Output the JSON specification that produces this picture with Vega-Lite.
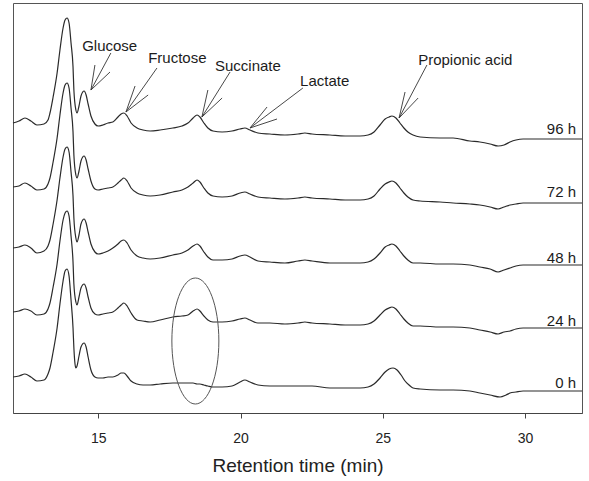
{
  "$schema": "https://vega.github.io/schema/vega-lite/v6.json",
  "width": 569,
  "height": 410,
  "autosize": {"type": "none"},
  "padding": {"left": 13, "top": 3, "right": 7, "bottom": 68},
  "background": "white",
  "config": {
    "font": "Liberation Sans",
    "view": {"stroke": "#555555", "strokeWidth": 1},
    "axis": {"grid": false}
  },
  "datasets": {
    "traces": [
      {"time": 12.00, "trace": "96 h", "signal": 290}, {"time": 12.21, "trace": "96 h", "signal": 292}, {"time": 12.42, "trace": "96 h", "signal": 295}, {"time": 12.63, "trace": "96 h", "signal": 292}, {"time": 12.84, "trace": "96 h", "signal": 288}, {"time": 13.09, "trace": "96 h", "signal": 289}, {"time": 13.23, "trace": "96 h", "signal": 293}, {"time": 13.30, "trace": "96 h", "signal": 300}, {"time": 13.41, "trace": "96 h", "signal": 316}, {"time": 13.55, "trace": "96 h", "signal": 340}, {"time": 13.65, "trace": "96 h", "signal": 363}, {"time": 13.76, "trace": "96 h", "signal": 385}, {"time": 13.83, "trace": "96 h", "signal": 393}, {"time": 13.90, "trace": "96 h", "signal": 395}, {"time": 13.97, "trace": "96 h", "signal": 390}, {"time": 14.04, "trace": "96 h", "signal": 370}, {"time": 14.11, "trace": "96 h", "signal": 346}, {"time": 14.14, "trace": "96 h", "signal": 323}, {"time": 14.21, "trace": "96 h", "signal": 303}, {"time": 14.25, "trace": "96 h", "signal": 300}, {"time": 14.32, "trace": "96 h", "signal": 307}, {"time": 14.39, "trace": "96 h", "signal": 317}, {"time": 14.50, "trace": "96 h", "signal": 322}, {"time": 14.57, "trace": "96 h", "signal": 318}, {"time": 14.64, "trace": "96 h", "signal": 309}, {"time": 14.74, "trace": "96 h", "signal": 297}, {"time": 14.88, "trace": "96 h", "signal": 289}, {"time": 14.99, "trace": "96 h", "signal": 287}, {"time": 15.16, "trace": "96 h", "signal": 288}, {"time": 15.34, "trace": "96 h", "signal": 290}, {"time": 15.51, "trace": "96 h", "signal": 291}, {"time": 15.69, "trace": "96 h", "signal": 296}, {"time": 15.80, "trace": "96 h", "signal": 299}, {"time": 15.90, "trace": "96 h", "signal": 300}, {"time": 16.01, "trace": "96 h", "signal": 297}, {"time": 16.15, "trace": "96 h", "signal": 290}, {"time": 16.36, "trace": "96 h", "signal": 285}, {"time": 16.57, "trace": "96 h", "signal": 283}, {"time": 16.82, "trace": "96 h", "signal": 282}, {"time": 17.17, "trace": "96 h", "signal": 283}, {"time": 17.62, "trace": "96 h", "signal": 285}, {"time": 17.94, "trace": "96 h", "signal": 287}, {"time": 18.15, "trace": "96 h", "signal": 290}, {"time": 18.33, "trace": "96 h", "signal": 295}, {"time": 18.47, "trace": "96 h", "signal": 298}, {"time": 18.57, "trace": "96 h", "signal": 296}, {"time": 18.71, "trace": "96 h", "signal": 290}, {"time": 18.85, "trace": "96 h", "signal": 285}, {"time": 19.03, "trace": "96 h", "signal": 282}, {"time": 19.35, "trace": "96 h", "signal": 281}, {"time": 19.70, "trace": "96 h", "signal": 282}, {"time": 19.98, "trace": "96 h", "signal": 284}, {"time": 20.15, "trace": "96 h", "signal": 285}, {"time": 20.33, "trace": "96 h", "signal": 283}, {"time": 20.61, "trace": "96 h", "signal": 280}, {"time": 21.03, "trace": "96 h", "signal": 279}, {"time": 21.56, "trace": "96 h", "signal": 278}, {"time": 22.02, "trace": "96 h", "signal": 279}, {"time": 22.26, "trace": "96 h", "signal": 280}, {"time": 22.51, "trace": "96 h", "signal": 279}, {"time": 23.14, "trace": "96 h", "signal": 278}, {"time": 23.67, "trace": "96 h", "signal": 277}, {"time": 24.20, "trace": "96 h", "signal": 277}, {"time": 24.48, "trace": "96 h", "signal": 278}, {"time": 24.69, "trace": "96 h", "signal": 281}, {"time": 24.90, "trace": "96 h", "signal": 288}, {"time": 25.08, "trace": "96 h", "signal": 294}, {"time": 25.22, "trace": "96 h", "signal": 296}, {"time": 25.32, "trace": "96 h", "signal": 297}, {"time": 25.46, "trace": "96 h", "signal": 295}, {"time": 25.60, "trace": "96 h", "signal": 290}, {"time": 25.74, "trace": "96 h", "signal": 285}, {"time": 25.88, "trace": "96 h", "signal": 281}, {"time": 26.06, "trace": "96 h", "signal": 278}, {"time": 26.31, "trace": "96 h", "signal": 276}, {"time": 27.01, "trace": "96 h", "signal": 275}, {"time": 27.47, "trace": "96 h", "signal": 275}, {"time": 28.06, "trace": "96 h", "signal": 272}, {"time": 28.41, "trace": "96 h", "signal": 271}, {"time": 28.77, "trace": "96 h", "signal": 269}, {"time": 29.05, "trace": "96 h", "signal": 267}, {"time": 29.26, "trace": "96 h", "signal": 268}, {"time": 29.47, "trace": "96 h", "signal": 271}, {"time": 29.68, "trace": "96 h", "signal": 273}, {"time": 29.93, "trace": "96 h", "signal": 274}, {"time": 30.52, "trace": "96 h", "signal": 274}, {"time": 31.23, "trace": "96 h", "signal": 274}, {"time": 32.00, "trace": "96 h", "signal": 274},

      {"time": 12.00, "trace": "72 h", "signal": 226}, {"time": 12.21, "trace": "72 h", "signal": 227}, {"time": 12.42, "trace": "72 h", "signal": 230}, {"time": 12.63, "trace": "72 h", "signal": 227}, {"time": 12.84, "trace": "72 h", "signal": 223}, {"time": 13.09, "trace": "72 h", "signal": 224}, {"time": 13.23, "trace": "72 h", "signal": 229}, {"time": 13.30, "trace": "72 h", "signal": 235}, {"time": 13.41, "trace": "72 h", "signal": 251}, {"time": 13.55, "trace": "72 h", "signal": 275}, {"time": 13.65, "trace": "72 h", "signal": 298}, {"time": 13.76, "trace": "72 h", "signal": 320}, {"time": 13.83, "trace": "72 h", "signal": 328}, {"time": 13.90, "trace": "72 h", "signal": 330}, {"time": 13.97, "trace": "72 h", "signal": 325}, {"time": 14.04, "trace": "72 h", "signal": 305}, {"time": 14.11, "trace": "72 h", "signal": 281}, {"time": 14.14, "trace": "72 h", "signal": 258}, {"time": 14.21, "trace": "72 h", "signal": 238}, {"time": 14.25, "trace": "72 h", "signal": 235}, {"time": 14.32, "trace": "72 h", "signal": 242}, {"time": 14.39, "trace": "72 h", "signal": 252}, {"time": 14.50, "trace": "72 h", "signal": 257}, {"time": 14.57, "trace": "72 h", "signal": 253}, {"time": 14.64, "trace": "72 h", "signal": 244}, {"time": 14.74, "trace": "72 h", "signal": 232}, {"time": 14.88, "trace": "72 h", "signal": 224}, {"time": 14.99, "trace": "72 h", "signal": 223}, {"time": 15.16, "trace": "72 h", "signal": 224}, {"time": 15.34, "trace": "72 h", "signal": 225}, {"time": 15.51, "trace": "72 h", "signal": 226}, {"time": 15.69, "trace": "72 h", "signal": 230}, {"time": 15.80, "trace": "72 h", "signal": 233}, {"time": 15.90, "trace": "72 h", "signal": 235}, {"time": 16.01, "trace": "72 h", "signal": 232}, {"time": 16.15, "trace": "72 h", "signal": 225}, {"time": 16.36, "trace": "72 h", "signal": 220}, {"time": 16.57, "trace": "72 h", "signal": 218}, {"time": 16.82, "trace": "72 h", "signal": 217}, {"time": 17.17, "trace": "72 h", "signal": 218}, {"time": 17.62, "trace": "72 h", "signal": 221}, {"time": 17.94, "trace": "72 h", "signal": 223}, {"time": 18.15, "trace": "72 h", "signal": 226}, {"time": 18.33, "trace": "72 h", "signal": 230}, {"time": 18.47, "trace": "72 h", "signal": 233}, {"time": 18.57, "trace": "72 h", "signal": 231}, {"time": 18.71, "trace": "72 h", "signal": 225}, {"time": 18.85, "trace": "72 h", "signal": 220}, {"time": 19.03, "trace": "72 h", "signal": 217}, {"time": 19.35, "trace": "72 h", "signal": 216}, {"time": 19.70, "trace": "72 h", "signal": 217}, {"time": 19.98, "trace": "72 h", "signal": 220}, {"time": 20.15, "trace": "72 h", "signal": 221}, {"time": 20.33, "trace": "72 h", "signal": 219}, {"time": 20.61, "trace": "72 h", "signal": 216}, {"time": 21.03, "trace": "72 h", "signal": 215}, {"time": 21.56, "trace": "72 h", "signal": 214}, {"time": 22.02, "trace": "72 h", "signal": 215}, {"time": 22.26, "trace": "72 h", "signal": 216}, {"time": 22.51, "trace": "72 h", "signal": 215}, {"time": 23.14, "trace": "72 h", "signal": 214}, {"time": 23.67, "trace": "72 h", "signal": 213}, {"time": 24.20, "trace": "72 h", "signal": 213}, {"time": 24.48, "trace": "72 h", "signal": 214}, {"time": 24.69, "trace": "72 h", "signal": 217}, {"time": 24.90, "trace": "72 h", "signal": 224}, {"time": 25.08, "trace": "72 h", "signal": 229}, {"time": 25.22, "trace": "72 h", "signal": 231}, {"time": 25.32, "trace": "72 h", "signal": 232}, {"time": 25.46, "trace": "72 h", "signal": 230}, {"time": 25.60, "trace": "72 h", "signal": 225}, {"time": 25.74, "trace": "72 h", "signal": 220}, {"time": 25.88, "trace": "72 h", "signal": 216}, {"time": 26.06, "trace": "72 h", "signal": 213}, {"time": 26.31, "trace": "72 h", "signal": 212}, {"time": 27.01, "trace": "72 h", "signal": 211}, {"time": 27.47, "trace": "72 h", "signal": 210}, {"time": 28.06, "trace": "72 h", "signal": 209}, {"time": 28.41, "trace": "72 h", "signal": 208}, {"time": 28.77, "trace": "72 h", "signal": 206}, {"time": 29.05, "trace": "72 h", "signal": 204}, {"time": 29.26, "trace": "72 h", "signal": 206}, {"time": 29.47, "trace": "72 h", "signal": 208}, {"time": 29.68, "trace": "72 h", "signal": 209}, {"time": 29.93, "trace": "72 h", "signal": 210}, {"time": 30.52, "trace": "72 h", "signal": 210}, {"time": 31.23, "trace": "72 h", "signal": 210}, {"time": 32.00, "trace": "72 h", "signal": 210},

      {"time": 12.00, "trace": "48 h", "signal": 165}, {"time": 12.21, "trace": "48 h", "signal": 166}, {"time": 12.42, "trace": "48 h", "signal": 168}, {"time": 12.63, "trace": "48 h", "signal": 165}, {"time": 12.84, "trace": "48 h", "signal": 160}, {"time": 13.09, "trace": "48 h", "signal": 162}, {"time": 13.23, "trace": "48 h", "signal": 167}, {"time": 13.30, "trace": "48 h", "signal": 173}, {"time": 13.41, "trace": "48 h", "signal": 189}, {"time": 13.55, "trace": "48 h", "signal": 213}, {"time": 13.65, "trace": "48 h", "signal": 235}, {"time": 13.76, "trace": "48 h", "signal": 256}, {"time": 13.83, "trace": "48 h", "signal": 264}, {"time": 13.90, "trace": "48 h", "signal": 266}, {"time": 13.97, "trace": "48 h", "signal": 261}, {"time": 14.04, "trace": "48 h", "signal": 241}, {"time": 14.11, "trace": "48 h", "signal": 217}, {"time": 14.14, "trace": "48 h", "signal": 195}, {"time": 14.21, "trace": "48 h", "signal": 175}, {"time": 14.25, "trace": "48 h", "signal": 171}, {"time": 14.32, "trace": "48 h", "signal": 178}, {"time": 14.39, "trace": "48 h", "signal": 189}, {"time": 14.50, "trace": "48 h", "signal": 194}, {"time": 14.57, "trace": "48 h", "signal": 190}, {"time": 14.64, "trace": "48 h", "signal": 181}, {"time": 14.74, "trace": "48 h", "signal": 169}, {"time": 14.88, "trace": "48 h", "signal": 161}, {"time": 14.99, "trace": "48 h", "signal": 159}, {"time": 15.16, "trace": "48 h", "signal": 160}, {"time": 15.34, "trace": "48 h", "signal": 162}, {"time": 15.51, "trace": "48 h", "signal": 165}, {"time": 15.69, "trace": "48 h", "signal": 169}, {"time": 15.80, "trace": "48 h", "signal": 172}, {"time": 15.90, "trace": "48 h", "signal": 173}, {"time": 16.01, "trace": "48 h", "signal": 170}, {"time": 16.15, "trace": "48 h", "signal": 163}, {"time": 16.36, "trace": "48 h", "signal": 157}, {"time": 16.57, "trace": "48 h", "signal": 155}, {"time": 16.82, "trace": "48 h", "signal": 154}, {"time": 17.17, "trace": "48 h", "signal": 155}, {"time": 17.62, "trace": "48 h", "signal": 158}, {"time": 17.94, "trace": "48 h", "signal": 160}, {"time": 18.15, "trace": "48 h", "signal": 163}, {"time": 18.33, "trace": "48 h", "signal": 167}, {"time": 18.47, "trace": "48 h", "signal": 169}, {"time": 18.57, "trace": "48 h", "signal": 167}, {"time": 18.71, "trace": "48 h", "signal": 161}, {"time": 18.85, "trace": "48 h", "signal": 156}, {"time": 19.03, "trace": "48 h", "signal": 153}, {"time": 19.35, "trace": "48 h", "signal": 153}, {"time": 19.70, "trace": "48 h", "signal": 154}, {"time": 19.98, "trace": "48 h", "signal": 157}, {"time": 20.15, "trace": "48 h", "signal": 158}, {"time": 20.33, "trace": "48 h", "signal": 156}, {"time": 20.61, "trace": "48 h", "signal": 152}, {"time": 21.03, "trace": "48 h", "signal": 151}, {"time": 21.56, "trace": "48 h", "signal": 150}, {"time": 22.02, "trace": "48 h", "signal": 152}, {"time": 22.26, "trace": "48 h", "signal": 153}, {"time": 22.51, "trace": "48 h", "signal": 152}, {"time": 23.14, "trace": "48 h", "signal": 150}, {"time": 23.67, "trace": "48 h", "signal": 150}, {"time": 24.20, "trace": "48 h", "signal": 150}, {"time": 24.48, "trace": "48 h", "signal": 151}, {"time": 24.69, "trace": "48 h", "signal": 154}, {"time": 24.90, "trace": "48 h", "signal": 160}, {"time": 25.08, "trace": "48 h", "signal": 166}, {"time": 25.22, "trace": "48 h", "signal": 168}, {"time": 25.32, "trace": "48 h", "signal": 169}, {"time": 25.46, "trace": "48 h", "signal": 167}, {"time": 25.60, "trace": "48 h", "signal": 162}, {"time": 25.74, "trace": "48 h", "signal": 157}, {"time": 25.88, "trace": "48 h", "signal": 153}, {"time": 26.06, "trace": "48 h", "signal": 150}, {"time": 26.31, "trace": "48 h", "signal": 150}, {"time": 27.01, "trace": "48 h", "signal": 149}, {"time": 27.47, "trace": "48 h", "signal": 149}, {"time": 28.06, "trace": "48 h", "signal": 148}, {"time": 28.41, "trace": "48 h", "signal": 146}, {"time": 28.77, "trace": "48 h", "signal": 144}, {"time": 29.05, "trace": "48 h", "signal": 141}, {"time": 29.26, "trace": "48 h", "signal": 143}, {"time": 29.47, "trace": "48 h", "signal": 145}, {"time": 29.68, "trace": "48 h", "signal": 147}, {"time": 29.93, "trace": "48 h", "signal": 148}, {"time": 30.52, "trace": "48 h", "signal": 148}, {"time": 31.23, "trace": "48 h", "signal": 148}, {"time": 32.00, "trace": "48 h", "signal": 148},

      {"time": 12.00, "trace": "24 h", "signal": 101}, {"time": 12.21, "trace": "24 h", "signal": 102}, {"time": 12.42, "trace": "24 h", "signal": 104}, {"time": 12.63, "trace": "24 h", "signal": 102}, {"time": 12.84, "trace": "24 h", "signal": 98}, {"time": 13.09, "trace": "24 h", "signal": 99}, {"time": 13.23, "trace": "24 h", "signal": 104}, {"time": 13.30, "trace": "24 h", "signal": 110}, {"time": 13.41, "trace": "24 h", "signal": 126}, {"time": 13.55, "trace": "24 h", "signal": 149}, {"time": 13.65, "trace": "24 h", "signal": 172}, {"time": 13.76, "trace": "24 h", "signal": 193}, {"time": 13.83, "trace": "24 h", "signal": 200}, {"time": 13.90, "trace": "24 h", "signal": 202}, {"time": 13.97, "trace": "24 h", "signal": 197}, {"time": 14.04, "trace": "24 h", "signal": 177}, {"time": 14.11, "trace": "24 h", "signal": 151}, {"time": 14.14, "trace": "24 h", "signal": 129}, {"time": 14.21, "trace": "24 h", "signal": 111}, {"time": 14.25, "trace": "24 h", "signal": 108}, {"time": 14.32, "trace": "24 h", "signal": 116}, {"time": 14.39, "trace": "24 h", "signal": 125}, {"time": 14.50, "trace": "24 h", "signal": 129}, {"time": 14.57, "trace": "24 h", "signal": 125}, {"time": 14.64, "trace": "24 h", "signal": 116}, {"time": 14.74, "trace": "24 h", "signal": 105}, {"time": 14.88, "trace": "24 h", "signal": 99}, {"time": 14.99, "trace": "24 h", "signal": 98}, {"time": 15.16, "trace": "24 h", "signal": 99}, {"time": 15.34, "trace": "24 h", "signal": 100}, {"time": 15.51, "trace": "24 h", "signal": 101}, {"time": 15.69, "trace": "24 h", "signal": 105}, {"time": 15.80, "trace": "24 h", "signal": 108}, {"time": 15.90, "trace": "24 h", "signal": 110}, {"time": 16.01, "trace": "24 h", "signal": 107}, {"time": 16.15, "trace": "24 h", "signal": 100}, {"time": 16.36, "trace": "24 h", "signal": 93}, {"time": 16.57, "trace": "24 h", "signal": 92}, {"time": 16.82, "trace": "24 h", "signal": 91}, {"time": 17.17, "trace": "24 h", "signal": 93}, {"time": 17.62, "trace": "24 h", "signal": 96}, {"time": 17.94, "trace": "24 h", "signal": 97}, {"time": 18.15, "trace": "24 h", "signal": 98}, {"time": 18.33, "trace": "24 h", "signal": 102}, {"time": 18.47, "trace": "24 h", "signal": 104}, {"time": 18.57, "trace": "24 h", "signal": 102}, {"time": 18.71, "trace": "24 h", "signal": 97}, {"time": 18.85, "trace": "24 h", "signal": 93}, {"time": 19.03, "trace": "24 h", "signal": 91}, {"time": 19.35, "trace": "24 h", "signal": 91}, {"time": 19.70, "trace": "24 h", "signal": 92}, {"time": 19.98, "trace": "24 h", "signal": 94}, {"time": 20.15, "trace": "24 h", "signal": 95}, {"time": 20.33, "trace": "24 h", "signal": 93}, {"time": 20.61, "trace": "24 h", "signal": 90}, {"time": 21.03, "trace": "24 h", "signal": 90}, {"time": 21.56, "trace": "24 h", "signal": 89}, {"time": 22.02, "trace": "24 h", "signal": 90}, {"time": 22.26, "trace": "24 h", "signal": 91}, {"time": 22.51, "trace": "24 h", "signal": 90}, {"time": 23.14, "trace": "24 h", "signal": 89}, {"time": 23.67, "trace": "24 h", "signal": 88}, {"time": 24.20, "trace": "24 h", "signal": 88}, {"time": 24.48, "trace": "24 h", "signal": 89}, {"time": 24.69, "trace": "24 h", "signal": 92}, {"time": 24.90, "trace": "24 h", "signal": 98}, {"time": 25.08, "trace": "24 h", "signal": 103}, {"time": 25.22, "trace": "24 h", "signal": 105}, {"time": 25.32, "trace": "24 h", "signal": 106}, {"time": 25.46, "trace": "24 h", "signal": 104}, {"time": 25.60, "trace": "24 h", "signal": 99}, {"time": 25.74, "trace": "24 h", "signal": 94}, {"time": 25.88, "trace": "24 h", "signal": 90}, {"time": 26.06, "trace": "24 h", "signal": 87}, {"time": 26.31, "trace": "24 h", "signal": 87}, {"time": 27.01, "trace": "24 h", "signal": 86}, {"time": 27.47, "trace": "24 h", "signal": 86}, {"time": 28.06, "trace": "24 h", "signal": 85}, {"time": 28.41, "trace": "24 h", "signal": 83}, {"time": 28.77, "trace": "24 h", "signal": 81}, {"time": 29.05, "trace": "24 h", "signal": 79}, {"time": 29.26, "trace": "24 h", "signal": 81}, {"time": 29.47, "trace": "24 h", "signal": 82}, {"time": 29.68, "trace": "24 h", "signal": 84}, {"time": 29.93, "trace": "24 h", "signal": 85}, {"time": 30.52, "trace": "24 h", "signal": 85}, {"time": 31.23, "trace": "24 h", "signal": 85}, {"time": 32.00, "trace": "24 h", "signal": 85},

      {"time": 12.00, "trace": "0 h", "signal": 36}, {"time": 12.21, "trace": "0 h", "signal": 37}, {"time": 12.42, "trace": "0 h", "signal": 39}, {"time": 12.63, "trace": "0 h", "signal": 36}, {"time": 12.84, "trace": "0 h", "signal": 32}, {"time": 13.09, "trace": "0 h", "signal": 33}, {"time": 13.23, "trace": "0 h", "signal": 39}, {"time": 13.30, "trace": "0 h", "signal": 45}, {"time": 13.41, "trace": "0 h", "signal": 61}, {"time": 13.55, "trace": "0 h", "signal": 85}, {"time": 13.65, "trace": "0 h", "signal": 109}, {"time": 13.76, "trace": "0 h", "signal": 132}, {"time": 13.83, "trace": "0 h", "signal": 142}, {"time": 13.90, "trace": "0 h", "signal": 144}, {"time": 13.97, "trace": "0 h", "signal": 137}, {"time": 14.04, "trace": "0 h", "signal": 113}, {"time": 14.11, "trace": "0 h", "signal": 85}, {"time": 14.14, "trace": "0 h", "signal": 65}, {"time": 14.18, "trace": "0 h", "signal": 49}, {"time": 14.21, "trace": "0 h", "signal": 45}, {"time": 14.25, "trace": "0 h", "signal": 47}, {"time": 14.32, "trace": "0 h", "signal": 57}, {"time": 14.39, "trace": "0 h", "signal": 66}, {"time": 14.50, "trace": "0 h", "signal": 70}, {"time": 14.57, "trace": "0 h", "signal": 66}, {"time": 14.64, "trace": "0 h", "signal": 56}, {"time": 14.74, "trace": "0 h", "signal": 43}, {"time": 14.88, "trace": "0 h", "signal": 36}, {"time": 14.99, "trace": "0 h", "signal": 35}, {"time": 15.16, "trace": "0 h", "signal": 35}, {"time": 15.34, "trace": "0 h", "signal": 36}, {"time": 15.51, "trace": "0 h", "signal": 36}, {"time": 15.69, "trace": "0 h", "signal": 38}, {"time": 15.80, "trace": "0 h", "signal": 40}, {"time": 15.90, "trace": "0 h", "signal": 40}, {"time": 16.01, "trace": "0 h", "signal": 37}, {"time": 16.15, "trace": "0 h", "signal": 32}, {"time": 16.36, "trace": "0 h", "signal": 29}, {"time": 16.57, "trace": "0 h", "signal": 28}, {"time": 16.82, "trace": "0 h", "signal": 28}, {"time": 17.17, "trace": "0 h", "signal": 29}, {"time": 17.62, "trace": "0 h", "signal": 30}, {"time": 17.94, "trace": "0 h", "signal": 30}, {"time": 18.15, "trace": "0 h", "signal": 30}, {"time": 18.33, "trace": "0 h", "signal": 30}, {"time": 18.47, "trace": "0 h", "signal": 29}, {"time": 18.57, "trace": "0 h", "signal": 29}, {"time": 18.71, "trace": "0 h", "signal": 28}, {"time": 18.85, "trace": "0 h", "signal": 27}, {"time": 19.03, "trace": "0 h", "signal": 26}, {"time": 19.35, "trace": "0 h", "signal": 26}, {"time": 19.70, "trace": "0 h", "signal": 27}, {"time": 19.98, "trace": "0 h", "signal": 31}, {"time": 20.15, "trace": "0 h", "signal": 33}, {"time": 20.33, "trace": "0 h", "signal": 31}, {"time": 20.61, "trace": "0 h", "signal": 28}, {"time": 21.03, "trace": "0 h", "signal": 27}, {"time": 21.56, "trace": "0 h", "signal": 27}, {"time": 22.02, "trace": "0 h", "signal": 27}, {"time": 22.26, "trace": "0 h", "signal": 27}, {"time": 22.51, "trace": "0 h", "signal": 27}, {"time": 23.14, "trace": "0 h", "signal": 25}, {"time": 23.67, "trace": "0 h", "signal": 25}, {"time": 24.20, "trace": "0 h", "signal": 25}, {"time": 24.48, "trace": "0 h", "signal": 26}, {"time": 24.69, "trace": "0 h", "signal": 29}, {"time": 24.90, "trace": "0 h", "signal": 35}, {"time": 25.08, "trace": "0 h", "signal": 41}, {"time": 25.22, "trace": "0 h", "signal": 44}, {"time": 25.36, "trace": "0 h", "signal": 45}, {"time": 25.50, "trace": "0 h", "signal": 43}, {"time": 25.64, "trace": "0 h", "signal": 38}, {"time": 25.78, "trace": "0 h", "signal": 32}, {"time": 25.92, "trace": "0 h", "signal": 28}, {"time": 26.06, "trace": "0 h", "signal": 25}, {"time": 26.31, "trace": "0 h", "signal": 24}, {"time": 27.01, "trace": "0 h", "signal": 23}, {"time": 27.47, "trace": "0 h", "signal": 23}, {"time": 28.06, "trace": "0 h", "signal": 22}, {"time": 28.41, "trace": "0 h", "signal": 20}, {"time": 28.77, "trace": "0 h", "signal": 18}, {"time": 29.12, "trace": "0 h", "signal": 16}, {"time": 29.33, "trace": "0 h", "signal": 18}, {"time": 29.47, "trace": "0 h", "signal": 20}, {"time": 29.68, "trace": "0 h", "signal": 21}, {"time": 29.93, "trace": "0 h", "signal": 22}, {"time": 30.52, "trace": "0 h", "signal": 22}, {"time": 31.23, "trace": "0 h", "signal": 22}, {"time": 32.00, "trace": "0 h", "signal": 22}
    ],
    "traceLabels": [
      {"trace": "96 h", "time": 31.79, "signal": 279},
      {"trace": "72 h", "time": 31.79, "signal": 216},
      {"trace": "48 h", "time": 31.79, "signal": 150},
      {"trace": "24 h", "time": 31.79, "signal": 87},
      {"trace": "0 h", "time": 31.79, "signal": 25}
    ],
    "peakNames": [
      {"name": "Glucose", "time": 14.43, "signal": 362},
      {"name": "Fructose", "time": 16.75, "signal": 350},
      {"name": "Succinate", "time": 19.10, "signal": 342},
      {"name": "Lactate", "time": 22.09, "signal": 327},
      {"name": "Propionic acid", "time": 26.24, "signal": 348}
    ],
    "arrows": [
      {"name": "Glucose", "part": "shaft", "time": 14.74, "signal": 323, "time2": 15.44, "signal2": 360},
      {"name": "Glucose", "part": "barb", "time": 14.74, "signal": 323, "time2": 14.88, "signal2": 348},
      {"name": "Glucose", "part": "barb", "time": 14.74, "signal": 323, "time2": 15.41, "signal2": 341},
      {"name": "Fructose", "part": "shaft", "time": 15.97, "signal": 301, "time2": 17.06, "signal2": 345},
      {"name": "Fructose", "part": "barb", "time": 15.97, "signal": 301, "time2": 16.29, "signal2": 327},
      {"name": "Fructose", "part": "barb", "time": 15.97, "signal": 301, "time2": 16.75, "signal2": 318},
      {"name": "Succinate", "part": "shaft", "time": 18.64, "signal": 296, "time2": 19.63, "signal2": 341},
      {"name": "Succinate", "part": "barb", "time": 18.64, "signal": 296, "time2": 18.85, "signal2": 323},
      {"name": "Succinate", "part": "barb", "time": 18.64, "signal": 296, "time2": 19.35, "signal2": 315},
      {"name": "Lactate", "part": "shaft", "time": 20.33, "signal": 285, "time2": 22.19, "signal2": 325},
      {"name": "Lactate", "part": "barb", "time": 20.33, "signal": 285, "time2": 20.93, "signal2": 306},
      {"name": "Lactate", "part": "barb", "time": 20.33, "signal": 285, "time2": 21.28, "signal2": 294},
      {"name": "Propionic acid", "part": "shaft", "time": 25.57, "signal": 295, "time2": 26.55, "signal2": 348},
      {"name": "Propionic acid", "part": "barb", "time": 25.57, "signal": 295, "time2": 25.78, "signal2": 321},
      {"name": "Propionic acid", "part": "barb", "time": 25.57, "signal": 295, "time2": 26.24, "signal2": 315}
    ],
    "highlight": [
      {"note": "succinate region, 0 h vs 24 h", "time": 18.41, "signal": 72}
    ]
  },
  "encoding": {
    "x": {
      "field": "time",
      "type": "quantitative",
      "scale": {"domain": [12, 32], "nice": false, "zero": false},
      "axis": {
        "title": "Retention time (min)",
        "values": [15, 20, 25, 30],
        "domainColor": "#444444",
        "tickColor": "#444444",
        "tickSize": 5,
        "labelFontSize": 14,
        "labelColor": "#222222",
        "labelPadding": 13,
        "titleFontSize": 19,
        "titleFontWeight": "normal",
        "titleColor": "#222222",
        "titlePadding": 11
      }
    },
    "y": {
      "field": "signal",
      "type": "quantitative",
      "scale": {"domain": [0, 410], "nice": false, "zero": false},
      "axis": null
    }
  },
  "layer": [
    {
      "data": {"name": "traces"},
      "mark": {"type": "line", "interpolate": "monotone", "color": "#2a2a2a", "strokeWidth": 1.2},
      "encoding": {"detail": {"field": "trace", "type": "nominal"}, "order": {"field": "time", "type": "quantitative"}}
    },
    {
      "data": {"name": "arrows"},
      "mark": {"type": "rule", "color": "#333333", "strokeWidth": 0.9},
      "encoding": {
        "x2": {"field": "time2"},
        "y2": {"field": "signal2"}
      }
    },
    {
      "data": {"name": "peakNames"},
      "mark": {"type": "text", "align": "left", "baseline": "alphabetic", "fontSize": 15, "color": "#1c1c1c"},
      "encoding": {"text": {"field": "name", "type": "nominal"}}
    },
    {
      "data": {"name": "traceLabels"},
      "mark": {"type": "text", "align": "right", "baseline": "alphabetic", "fontSize": 15, "color": "#1c1c1c"},
      "encoding": {"text": {"field": "trace", "type": "nominal"}}
    },
    {
      "data": {"name": "highlight"},
      "mark": {
        "type": "point",
        "shape": "M0,-1A0.373,1,0,1,1,0,1A0.373,1,0,1,1,0,-1Z",
        "size": 15876,
        "filled": false,
        "stroke": "#555555",
        "strokeWidth": 1,
        "opacity": 1
      }
    }
  ]
}
